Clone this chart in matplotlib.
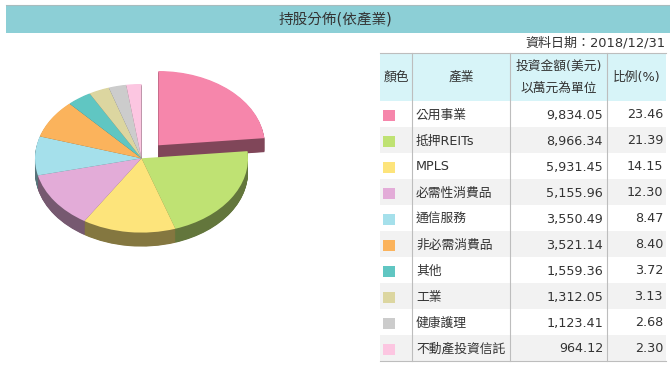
import numpy as np
import matplotlib
matplotlib.use("Agg")
from matplotlib import pyplot as plt
from matplotlib.patches import Rectangle
from matplotlib.colors import to_rgb

plt.rcParams['font.family'] = ['DejaVu Sans', 'Noto Sans CJK TC']

# data
industries = ['公用事業', '抵押REITs', 'MPLS', '必需性消費品', '通信服務',
              '非必需消費品', '其他', '工業', '健康護理', '不動產投資信託']
amounts = [9834.05, 8966.34, 5931.45, 5155.96, 3550.49,
           3521.14, 1559.36, 1312.05, 1123.41, 964.12]
percents = [23.46, 21.39, 14.15, 12.30, 8.47, 8.40, 3.72, 3.13, 2.68, 2.30]
colors = ['#f686ab', '#bfe273', '#fde47b', '#e3acd8', '#a5e0eb',
          '#fbb35c', '#60c6c2', '#dcd6a0', '#cccccc', '#fcc6e1']
title = '持股分佈(依產業)'
date_text = '資料日期：2018/12/31'

W, H = 670, 366
fig = plt.figure(figsize=(W / 100, H / 100), dpi=100)
fig.patch.set_facecolor('white')

# background axes in pixel coordinates
bg = fig.add_axes([0, 0, 1, 1])
bg.set_xlim(0, W)
bg.set_ylim(H, 0)
bg.axis('off')

txt = '#333333'

# title bar
bg.add_patch(Rectangle((6, 5), W - 6, 27.5, facecolor='#8ccfd6', edgecolor='none'))
bg.plot([6, W], [5.3, 5.3], color='#a8bcbe', lw=0.8)
bg.text(335, 19.5, title, ha='center', va='center', fontsize=10.5, color=txt)
bg.text(665, 43, date_text, ha='right', va='center', fontsize=9.4, color=txt)

# table
x0, x1, x2, x3, x4 = 380, 412, 510, 607, 666
head_top, head_bot = 53, 101
row_h = 26
n = len(industries)
bottom = head_bot + n * row_h

bg.add_patch(Rectangle((x0, head_top), x4 - x0, head_bot - head_top,
                       facecolor='#d7f4f8', edgecolor='none'))
for i in range(n):
    y = head_bot + i * row_h
    fc = 'white' if i % 2 == 0 else '#f2f2f2'
    bg.add_patch(Rectangle((x0, y), x4 - x0, row_h, facecolor=fc, edgecolor='none'))

line_c = '#bdbdbd'
bg.plot([x0, x4], [head_top, head_top], color=line_c, lw=0.8)
bg.plot([x0, x4], [bottom, bottom], color=line_c, lw=0.8)
for xv in (x1, x2, x3):
    bg.plot([xv, xv], [head_top, bottom], color=line_c, lw=0.8)

hy = (head_top + head_bot) / 2
bg.text((x0 + x1) / 2, hy, '顏色', ha='center', va='center', fontsize=9.2, color=txt)
bg.text((x1 + x2) / 2, hy, '產業', ha='center', va='center', fontsize=9.2, color=txt)
bg.text((x2 + x3) / 2, hy - 11, '投資金額(美元)', ha='center', va='center', fontsize=9.2, color=txt)
bg.text((x2 + x3) / 2, hy + 11, '以萬元為單位', ha='center', va='center', fontsize=9.2, color=txt)
bg.text((x3 + x4) / 2, hy, '比例(%)', ha='center', va='center', fontsize=9.2, color=txt)

for i in range(n):
    yc = head_bot + i * row_h + row_h / 2 + 1
    bg.add_patch(Rectangle((383, yc - 5.5), 12, 11, facecolor=colors[i], edgecolor='none'))
    bg.text(416, yc, industries[i], ha='left', va='center', fontsize=9.2, color=txt)
    bg.text(603, yc, f'{amounts[i]:,.2f}', ha='right', va='center', fontsize=9.2, color=txt)
    bg.text(663, yc, f'{percents[i]:.2f}', ha='right', va='center', fontsize=9.2, color=txt)

# 3D pie
cx, cy, rx, ry = 141.5, 158.3, 106.5, 74.3
pl, pr, pt, pb = 0, 300, 40, 366
ax = fig.add_axes([pl / W, 1 - pb / H, (pr - pl) / W, (pb - pt) / H])
explode = [0.236] + [0] * (n - 1)
dark = [tuple(c * 0.52 for c in to_rgb(col)) for col in colors]
depth = 14 / ry
for d in np.linspace(depth, 0.01, 30):
    ax.pie(amounts, colors=dark, explode=explode, startangle=90, counterclock=False,
           center=(0, -d), wedgeprops=dict(linewidth=0))
ax.pie(amounts, colors=colors, explode=explode, startangle=90, counterclock=False,
       wedgeprops=dict(linewidth=0))
ax.set_aspect('auto')
ax.set_xlim((pl - cx) / rx, (pr - cx) / rx)
ax.set_ylim((cy - pb) / ry, (cy - pt) / ry)
ax.axis('off')

fig.savefig('out.png', dpi=100)
